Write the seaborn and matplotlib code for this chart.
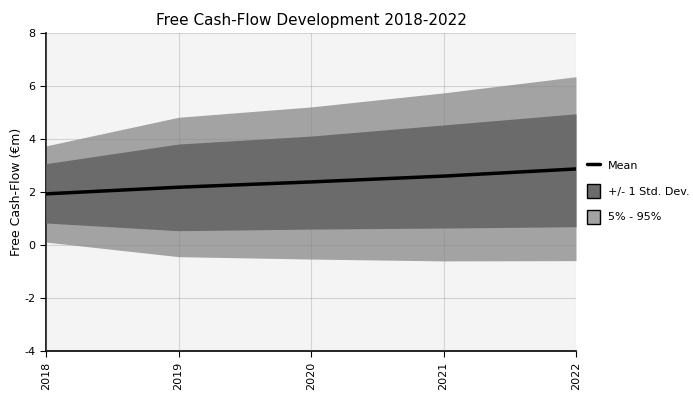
import matplotlib
matplotlib.use("Agg")
import matplotlib.pyplot as plt
import seaborn as sns
import pandas as pd
from matplotlib.lines import Line2D
from matplotlib.patches import Patch

years = [2018, 2019, 2020, 2021, 2022]
mean = [1.93, 2.18, 2.38, 2.60, 2.87]
std_upper = [3.07, 3.81, 4.11, 4.53, 4.95]
std_lower = [0.83, 0.54, 0.60, 0.64, 0.69]
p95 = [3.74, 4.82, 5.21, 5.74, 6.35]
p5 = [0.11, -0.44, -0.53, -0.60, -0.59]
title = "Free Cash-Flow Development 2018-2022"
ylabel = "Free Cash-Flow (€m)"

df = pd.DataFrame({"year": years, "mean": mean})

sns.set_style("white")
plt.rcParams['font.family'] = ['DejaVu Sans']
plt.rcParams['axes.unicode_minus'] = False
plt.rcParams['text.color'] = 'black'
plt.rcParams['axes.labelcolor'] = 'black'
plt.rcParams['xtick.color'] = 'black'
plt.rcParams['ytick.color'] = 'black'

fig = plt.figure(figsize=(6.93, 3.94), dpi=100)
ax = fig.add_axes([46/693, 1-351/394, (576-46)/693, (351-33)/394])
ax.set_facecolor("#f4f4f4")

ax.fill_between(years, p5, p95, color="#a3a3a3", linewidth=0, zorder=2)
ax.fill_between(years, std_lower, std_upper, color="#6b6b6b", linewidth=0, zorder=3)
sns.lineplot(data=df, x="year", y="mean", color="black", linewidth=2.5, ax=ax, zorder=4)

ax.set_xlim(2018, 2022)
ax.set_ylim(-4, 8)
ax.set_xticks(years)
ax.set_xticklabels([str(y) for y in years], rotation=90, fontsize=8)
ax.set_yticks([-4, -2, 0, 2, 4, 6, 8])
ax.tick_params(axis='y', labelsize=8, length=4, left=True, color='black')
ax.tick_params(axis='x', length=4, bottom=True, color='black')
ax.grid(True, color="#888888", alpha=0.3, linewidth=0.8, zorder=5)
ax.set_axisbelow(False)
for s in ["top", "right"]:
    ax.spines[s].set_visible(False)
for s in ["left", "bottom"]:
    ax.spines[s].set_color("black")
    ax.spines[s].set_linewidth(1.2)
ax.set_xlabel("")
ax.set_ylabel(ylabel, fontsize=9)
ax.yaxis.set_label_coords(-23/530, 0.5)
ax.set_title(title, fontsize=11, color='black')

handles = [
    Line2D([0], [0], color="black", linewidth=2.5),
    Patch(facecolor="#6b6b6b", edgecolor="black"),
    Patch(facecolor="#a3a3a3", edgecolor="black"),
]
labels = ["Mean", "+/- 1 Std. Dev.", "5% - 95%"]
fig.legend(handles, labels, loc="center left", bbox_to_anchor=(577/693, 1-191/394),
           frameon=False, fontsize=8, handlelength=1.2, handleheight=1.5, labelspacing=1.1,
           handletextpad=0.7)

fig.savefig("out.png", dpi=100)
